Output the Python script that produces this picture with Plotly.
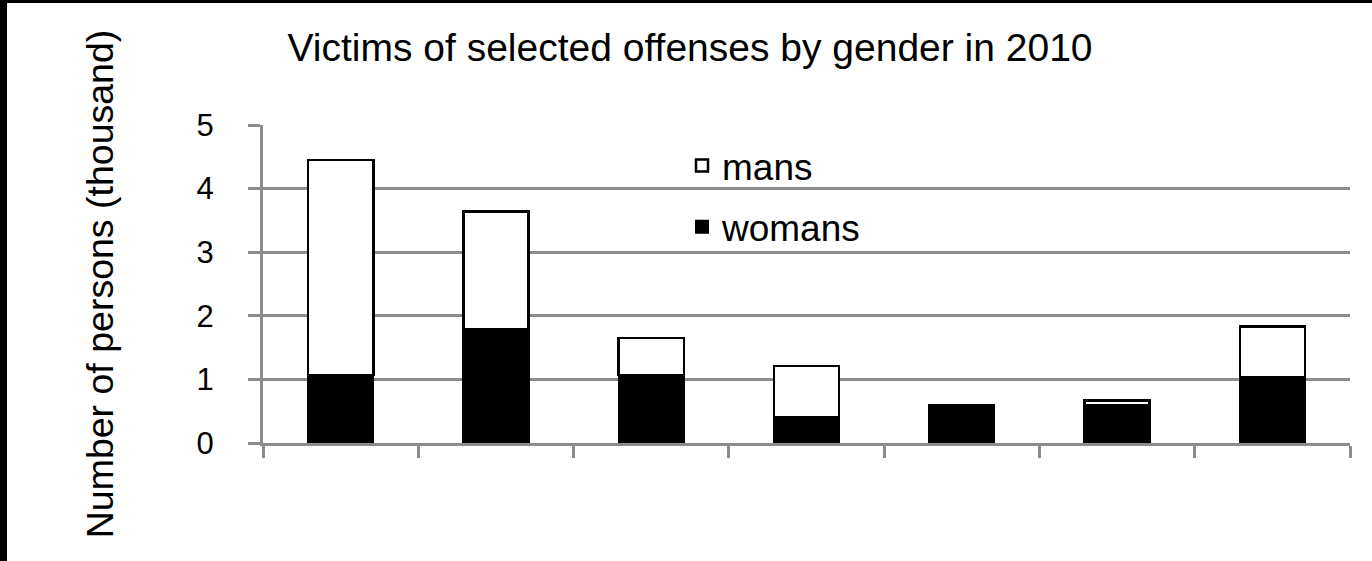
import plotly.graph_objects as go

# ---- data ----
categories = ["A", "B", "C", "D", "E", "F", "G"]
womans = [1.07, 1.79, 1.07, 0.41, 0.59, 0.60, 1.04]
mans = [3.38, 1.85, 0.58, 0.80, 0.00, 0.07, 0.79]
y_ticks = [0, 1, 2, 3, 4, 5]

FONT = "Arial, 'Liberation Sans', sans-serif"
W, H = 1372, 561
L, R, T, B = 263, 22, 125, 118
PW, PH = W - L - R, H - T - B

fig = go.Figure()
fig.add_trace(go.Bar(
    x=categories, y=womans, name="womans", width=0.42,
    marker=dict(color="black", line=dict(color="black", width=2)),
    legendgroup="w", legendrank=2,
))
fig.add_trace(go.Bar(
    x=categories, y=mans, name="mans", width=0.42,
    marker=dict(color="white", line=dict(color="black", width=2.5)),
    legendgroup="m", legendrank=1,
))

fig.update_layout(
    width=W, height=H,
    barmode="stack",
    paper_bgcolor="white", plot_bgcolor="white",
    margin=dict(l=L, r=R, t=T, b=B, pad=0),
    font=dict(family=FONT, color="black"),
    title=dict(
        text="Victims of selected offenses by gender in 2010",
        font=dict(size=39, family=FONT, color="black"),
        xref="container", x=690 / W, xanchor="center",
        yref="container", y=1 - 47 / H, yanchor="middle",
    ),
    legend=dict(
        x=(682 - L) / PW, xanchor="left",
        y=1 - (135 - T) / PH, yanchor="top",
        font=dict(size=37, family=FONT, color="black"),
        bgcolor="rgba(0,0,0,0)",
        traceorder="grouped",
        tracegroupgap=10,
    ),
    xaxis=dict(
        showticklabels=False,
        showgrid=False,
        tickson="boundaries",
        ticks="outside", ticklen=12, tickwidth=2.5, tickcolor="#8c8c8c",
        showline=True, linecolor="#8c8c8c", linewidth=3,
        range=[-0.5, 6.5],
        zeroline=False,
    ),
    yaxis=dict(
        range=[0, 5],
        tickvals=y_ticks,
        ticktext=[str(v) for v in y_ticks],
        tickfont=dict(size=31, family=FONT, color="black"),
        ticks="outside", ticklen=12, tickwidth=2.5, tickcolor="#8c8c8c",
        ticklabelstandoff=28,
        showgrid=True, gridcolor="#8c8c8c", gridwidth=2.5,
        showline=True, linecolor="#8c8c8c", linewidth=3,
        zeroline=False,
        title=dict(
            text="Number of persons (thousand)",
            font=dict(size=37.5, family=FONT, color="black"),
            standoff=72,
        ),
        automargin=False,
    ),
    shapes=[
        dict(type="rect", xref="paper", yref="paper",
             x0=-L / PW, x1=-(L - 7) / PW,
             y0=-B / PH, y1=1 + T / PH,
             fillcolor="black", line=dict(width=0), layer="above"),
        dict(type="rect", xref="paper", yref="paper",
             x0=-L / PW, x1=1 + R / PW,
             y0=1 + (T - 3) / PH, y1=1 + T / PH,
             fillcolor="black", line=dict(width=0), layer="above"),
    ],
)

fig.write_html(
    "out.html",
    config={"displayModeBar": False},
    post_script=(
        "document.body.style.margin='0';"
        "document.body.style.overflow='hidden';"
        "document.documentElement.style.overflow='hidden';"
        "document.body.style.background='white';"
    ),
)
